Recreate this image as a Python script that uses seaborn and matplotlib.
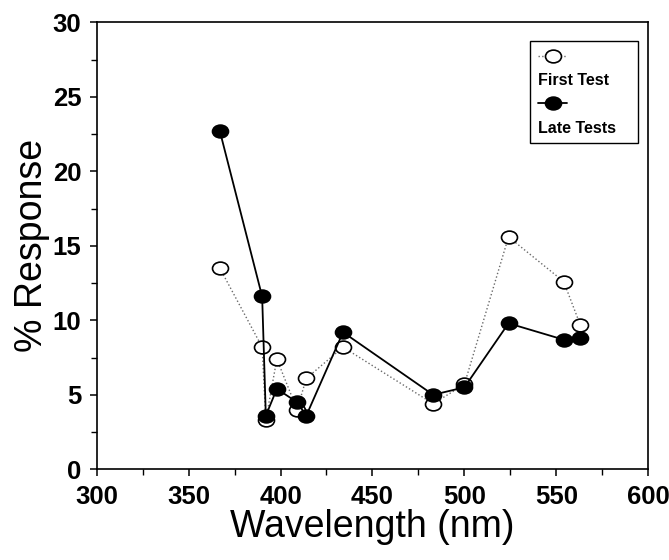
import numpy as np
import pandas as pd
import matplotlib
matplotlib.use("Agg")
import matplotlib.pyplot as plt
import matplotlib.transforms as mtransforms
from matplotlib.path import Path
from matplotlib.lines import Line2D
from matplotlib.ticker import MultipleLocator
import seaborn as sns

sns.set_style("ticks")
plt.rcParams['font.family'] = ['Liberation Sans', 'DejaVu Sans']
plt.rcParams['text.color'] = 'black'
plt.rcParams['axes.labelcolor'] = 'black'

# valores
wavelength = [367, 390, 392, 398, 409, 414, 434, 483, 500, 524, 554, 563]
first_test = [13.5, 8.2, 3.3, 7.4, 4.0, 6.1, 8.2, 4.4, 5.7, 15.6, 12.6, 9.7]
late_tests = [22.7, 11.6, 3.6, 5.4, 4.5, 3.6, 9.2, 5.0, 5.5, 9.8, 8.7, 8.8]

df = pd.DataFrame({'Wavelength': wavelength, 'First Test': first_test, 'Late Tests': late_tests})

# marcador levemente achatado, como no original
ellipse = Path.unit_circle().transformed(mtransforms.Affine2D().scale(1, 0.8))

estilo_first = dict(color='#6a6a6a', linestyle=':', linewidth=1.0, marker=ellipse, markersize=11.5,
                    markerfacecolor='white', markeredgecolor='black', markeredgewidth=1.2)
estilo_late = dict(color='black', linestyle='-', linewidth=1.3, marker=ellipse, markersize=11.5,
                   markerfacecolor='black', markeredgecolor='black', markeredgewidth=1.2)

fig = plt.figure(figsize=(6.69, 5.6), dpi=100)
ax = fig.add_axes([0.1445, 0.162, 0.8245, 0.798])

sns.lineplot(data=df, x='Wavelength', y='First Test', ax=ax, estimator=None, sort=False, **estilo_first)
sns.lineplot(data=df, x='Wavelength', y='Late Tests', ax=ax, estimator=None, sort=False, **estilo_late)

ax.set_xlim(300, 600)
ax.set_ylim(0, 30)
ax.xaxis.set_major_locator(MultipleLocator(50))
ax.xaxis.set_minor_locator(MultipleLocator(25))
ax.yaxis.set_major_locator(MultipleLocator(5))
ax.yaxis.set_minor_locator(MultipleLocator(2.5))
ax.tick_params(which='major', direction='out', length=5, width=1.1, labelsize=18.5, colors='black', pad=6)
ax.tick_params(which='minor', direction='out', length=4, width=1.0, colors='black')
for lbl in ax.get_xticklabels() + ax.get_yticklabels():
    lbl.set_fontweight('bold')
for s in ax.spines.values():
    s.set_linewidth(1.2)
    s.set_color('black')

ax.set_xlabel('Wavelength (nm)', fontsize=27, labelpad=0, color='black')
ax.set_ylabel('% Response', fontsize=27, labelpad=2, color='black')

# legenda: marcador em uma linha, texto na linha de baixo
h_first = Line2D([], [], **estilo_first)
h_late = Line2D([], [], **estilo_late)
vazio = Line2D([], [], linestyle='none')
leg = ax.legend([h_first, vazio, h_late, vazio], ['', 'First Test', '', 'Late Tests   '],
                loc='upper right', bbox_to_anchor=(0.981, 0.958), handlelength=1.8, handletextpad=-1.8,
                prop={'size': 11.5, 'weight': 'bold'}, labelspacing=0.55, frameon=True, fancybox=False,
                edgecolor='black', borderpad=0.5, borderaxespad=0, framealpha=1)
leg.get_frame().set_linewidth(1.0)

fig.savefig('out.png', dpi=100)
